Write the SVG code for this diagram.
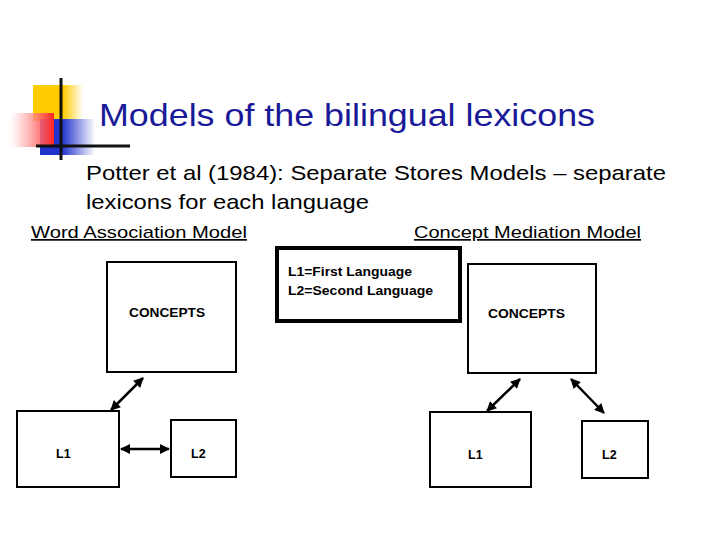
<svg xmlns="http://www.w3.org/2000/svg" width="720" height="540" viewBox="0 0 720 540">
<style>
.t{font-family:"Liberation Sans",Arial,sans-serif;fill:#000}
.b{fill:#fff;stroke:#000;stroke-width:2}
.a{stroke:#000;stroke-width:2.5;fill:none;marker-start:url(#h);marker-end:url(#h)}
</style>
<defs>
<marker id="h" viewBox="0 0 10 10" refX="9" refY="5" markerWidth="5" markerHeight="4" orient="auto-start-reverse"><path d="M0,0L10,5L0,10z" fill="#000"/></marker>
<linearGradient id="r" x1="0" x2="1"><stop offset="0" stop-color="#fff" stop-opacity="0.6"/><stop offset="1" stop-color="#f22"/></linearGradient>
<linearGradient id="bl" x1="0" x2="1"><stop offset="0.4" stop-color="#2233cc"/><stop offset="1" stop-color="#fff"/></linearGradient>
<linearGradient id="y" x1="0" x2="1"><stop offset="0.6" stop-color="#ffcc00"/><stop offset="1" stop-color="#fff"/></linearGradient>
</defs>
<g id="logo">
<rect x="33" y="85" width="50" height="36" fill="url(#y)"/>
<rect x="40" y="119" width="55" height="36" fill="url(#bl)"/>
<rect x="10" y="113" width="44" height="34" fill="url(#r)"/>
<line x1="61" y1="78" x2="61" y2="160" stroke="#111" stroke-width="3"/>
<line x1="36" y1="146" x2="130" y2="146" stroke="#111" stroke-width="3"/>
</g>
<text class="t" x="99" y="126" font-size="32" textLength="496" lengthAdjust="spacingAndGlyphs" style="fill:#1a1a99">Models of the bilingual lexicons</text>
<text class="t" x="86" y="180" font-size="21" textLength="580" lengthAdjust="spacingAndGlyphs">Potter et al (1984): Separate Stores Models – separate</text>
<text class="t" x="86" y="209" font-size="21" textLength="283" lengthAdjust="spacingAndGlyphs">lexicons for each language</text>
<text class="t" x="31" y="238" font-size="17" textLength="216" lengthAdjust="spacingAndGlyphs" text-decoration="underline">Word Association Model</text>
<text class="t" x="414" y="238" font-size="17" textLength="227" lengthAdjust="spacingAndGlyphs" text-decoration="underline">Concept Mediation Model</text>
<g id="legend"><rect x="277" y="248" width="183" height="73" fill="#fff" stroke="#000" stroke-width="4"/>
<text class="t" x="288" y="276" font-size="12.5" font-weight="bold" textLength="124" lengthAdjust="spacingAndGlyphs">L1=First Language</text>
<text class="t" x="288" y="295" font-size="12.5" font-weight="bold" textLength="145" lengthAdjust="spacingAndGlyphs">L2=Second Language</text></g>
<g id="wa-concepts"><rect class="b" x="107" y="262" width="129" height="110"/><text class="t" x="129" y="317" font-size="12.5" font-weight="bold" textLength="76" lengthAdjust="spacingAndGlyphs">CONCEPTS</text></g>
<g id="wa-l1"><rect class="b" x="17" y="411" width="102" height="76"/><text class="t" x="56" y="458" font-size="12.5" font-weight="bold">L1</text></g>
<g id="wa-l2"><rect class="b" x="171" y="420" width="65" height="57"/><text class="t" x="191" y="458" font-size="12.5" font-weight="bold">L2</text></g>
<g id="cm-concepts"><rect class="b" x="468" y="264" width="128" height="109"/><text class="t" x="488" y="318" font-size="12.5" font-weight="bold" textLength="77" lengthAdjust="spacingAndGlyphs">CONCEPTS</text></g>
<g id="cm-l1"><rect class="b" x="430" y="412" width="101" height="75"/><text class="t" x="468" y="459" font-size="12.5" font-weight="bold">L1</text></g>
<g id="cm-l2"><rect class="b" x="582" y="421" width="66" height="57"/><text class="t" x="602" y="459" font-size="12.5" font-weight="bold">L2</text></g>
<g id="connectors">
<line class="a" x1="111" y1="410" x2="143" y2="378"/>
<line class="a" x1="121" y1="449" x2="169" y2="449"/>
<line class="a" x1="487" y1="411" x2="520" y2="379"/>
<line class="a" x1="571" y1="379" x2="604" y2="413"/>
</g>
</svg>
